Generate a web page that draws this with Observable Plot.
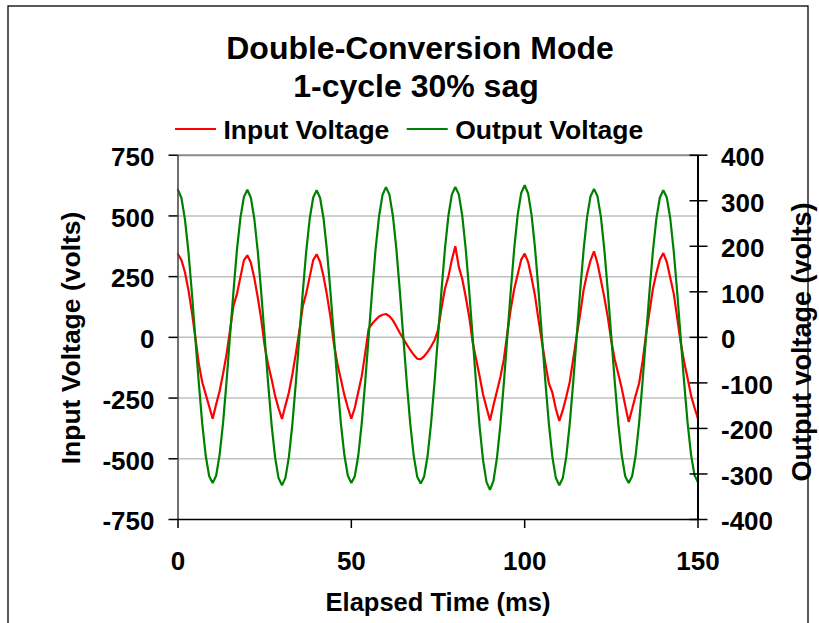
<!DOCTYPE html>
<html><head><meta charset="utf-8">
<script src="https://cdn.jsdelivr.net/npm/d3@7"></script>
<script src="https://cdn.jsdelivr.net/npm/@observablehq/plot@0.6"></script>
<style>
body{margin:0;background:#fff;}
#wrap{position:relative;width:819px;height:623px;overflow:hidden;background:#fff;}
#wrap svg{position:absolute;left:0;top:0;}
</style></head><body>
<div id="wrap"></div>
<script>
// ---- data ----
const titleLines = ["Double-Conversion Mode", "1-cycle 30% sag"];
const seriesNames = ["Input Voltage", "Output Voltage"];
const seriesColors = ["#ff0000", "#008000"];
const xLabel = "Elapsed Time (ms)";
const yLeftLabel = "Input Voltage (volts)";
const yRightLabel = "Output voltage (volts)";
const xTicks = [0, 50, 100, 150];
const leftTicks = [-750, -500, -250, 0, 250, 500, 750];
const rightTicks = [-400, -300, -200, -100, 0, 100, 200, 300, 400];
const sampleStepMs = 1;
// Input voltage (left axis), one sample per ms, t = 0..150
const inputVoltage = [
 342, 318, 268, 196, 105, 0, -108, -185, -235, -285,
 -335, -276, -222, -150, -70, 28, 130, 178, 248, 317,
 338, 308, 245, 165, 75, -35, -112, -172, -240, -292,
 -336, -280, -226, -152, -66, 26, 128, 182, 250, 318,
 342, 310, 250, 172, 82, -30, -110, -174, -238, -290,
 -335, -290, -225, -160, -65, 36, 56, 72, 86, 93,
 96, 87, 70, 45, 18, -6, -30, -52, -72, -88,
 -90, -78, -60, -38, -12, 30, 120, 200, 250, 320,
 375, 290, 240, 166, 85, -20, -90, -160, -235, -290,
 -342, -280, -222, -163, -90, 18, 118, 200, 260, 320,
 345, 310, 245, 170, 72, -20, -110, -190, -228, -295,
 -344, -300, -245, -184, -90, 5, 95, 195, 262, 317,
 354, 305, 235, 163, 81, -15, -92, -150, -210, -280,
 -348, -295, -240, -190, -100, 10, 105, 200, 265, 320,
 347, 310, 245, 180, 80, -20, -100, -168, -240, -290,
 -335
];
// Output voltage (right axis), one sample per ms, t = 0..150
const outputVoltage = [
 324, 306, 259, 189, 98, -2, -100, -190, -260, -305,
 -320, -304, -258, -188, -97, 3, 101, 192, 262, 308,
 324, 307, 261, 190, 99, 0, -101, -192, -263, -309,
 -325, -308, -262, -190, -99, 1, 100, 190, 261, 307,
 323, 306, 260, 188, 98, -1, -100, -190, -259, -304,
 -320, -305, -260, -189, -98, 2, 102, 194, 266, 313,
 330, 313, 266, 193, 101, 0, -100, -190, -260, -306,
 -321, -306, -260, -189, -98, 2, 102, 194, 267, 314,
 330, 314, 267, 194, 102, 0, -103, -196, -270, -318,
 -335, -315, -265, -192, -100, 2, 103, 196, 270, 317,
 334, 316, 268, 195, 102, 0, -100, -191, -263, -309,
 -325, -309, -262, -190, -99, 1, 101, 192, 264, 310,
 326, 310, 264, 191, 100, 0, -99, -189, -259, -305,
 -320, -305, -260, -189, -98, 1, 100, 190, 261, 307,
 323, 307, 261, 189, 99, -1, -99, -188, -258, -303,
 -318
];

// ---- chart ----
const rows = inputVoltage.map((v, i) => ({t: i * sampleStepMs, input: v, output: outputVoltage[i]}));
const leftMax = leftTicks[leftTicks.length - 1];
const rightMax = rightTicks[rightTicks.length - 1];
const k = leftMax / rightMax; // secondary axis mapped onto primary y scale
const FONT = "'Liberation Sans', Arial, Helvetica, sans-serif";
const fmt = d => String(Math.round(d));

const chart = Plot.plot({
  width: 819, height: 623,
  marginLeft: 177.5, marginRight: 121.5, marginTop: 154.7, marginBottom: 104,
  x: {domain: [xTicks[0], xTicks[xTicks.length - 1]]},
  y: {domain: [leftTicks[0], leftMax]},
  style: {fontFamily: FONT, fontWeight: "bold", fontSize: "26px", color: "#000", background: "transparent", overflow: "visible"},
  marks: [
    Plot.ruleY(leftTicks.slice(1, -1), {stroke: "#c0c0c0", strokeWidth: 1.5}),
    Plot.ruleY([leftMax], {stroke: "#8a8a8a", strokeWidth: 2}),
    Plot.line(rows, {x: "t", y: "input", stroke: seriesColors[0], strokeWidth: 2.2, strokeLinejoin: "miter"}),
    Plot.line(rows, {x: "t", y: d => d.output * k, stroke: seriesColors[1], strokeWidth: 2.2, strokeLinejoin: "miter"}),
    Plot.ruleX([xTicks[0]], {stroke: "#404040", strokeWidth: 1.5}),
    Plot.ruleX([xTicks[xTicks.length - 1]], {stroke: "#000", strokeWidth: 2}),
    Plot.ruleY([leftTicks[0]], {stroke: "#000", strokeWidth: 1.5}),
    // left axis
    Plot.axisY(leftTicks, {anchor: "left", tickSize: 9, fill: "none", stroke: "#000", strokeWidth: 1.5, label: null}),
    Plot.axisY(leftTicks, {anchor: "left", tickSize: 9, tickPadding: 14.5, stroke: "none", dy: 2.5, fontSize: 26, fontWeight: "bold", tickFormat: fmt, label: null}),
    // right axis (crossing ticks)
    Plot.axisY(rightTicks.map(v => v * k), {anchor: "right", tickSize: 18, dx: -9, fill: "none", stroke: "#000", strokeWidth: 1.5, label: null}),
    Plot.axisY(rightTicks.map(v => v * k), {anchor: "right", tickSize: 9, tickPadding: 14, stroke: "none", dy: 2.5, fontSize: 26, fontWeight: "bold", tickFormat: d => fmt(d / k), label: null}),
    // x axis
    Plot.axisX(xTicks, {anchor: "bottom", tickSize: 9, tickPadding: 23, stroke: "#000", strokeWidth: 1.5, fontSize: 26, fontWeight: "bold", tickFormat: fmt, label: null}),
    // axis titles
    Plot.text([xLabel], {frameAnchor: "bottom", lineAnchor: "middle", textAnchor: "middle", dy: 83.7, fontSize: 25.5, fontWeight: "bold", fill: "#000"}),
    Plot.text([yLeftLabel], {frameAnchor: "left", lineAnchor: "middle", textAnchor: "middle", rotate: -90, dx: -106, dy: 0.6, fontSize: 26.5, fontWeight: "bold", fill: "#000"}),
    Plot.text([yRightLabel], {frameAnchor: "right", lineAnchor: "middle", textAnchor: "middle", rotate: -90, dx: 104.5, dy: 4.6, fontSize: 27, fontWeight: "bold", fill: "#000"})
  ]
});
document.getElementById("wrap").appendChild(chart);

// ---- title, legend and outer border (overlay) ----
const ov = d3.select("#wrap").append("svg")
  .attr("width", 819).attr("height", 623)
  .style("pointer-events", "none")
  .style("font-family", FONT).style("font-weight", "bold");
ov.append("rect").attr("x", 8).attr("y", 6).attr("width", 800).attr("height", 700)
  .attr("fill", "none").attr("stroke", "#000").attr("stroke-width", 1.3);
ov.append("text").attr("x", 420).attr("y", 59.3).attr("text-anchor", "middle")
  .attr("font-size", 32).text(titleLines[0]);
ov.append("text").attr("x", 416).attr("y", 97.3).attr("text-anchor", "middle")
  .attr("font-size", 32).text(titleLines[1]);
const legendItems = [
  {name: seriesNames[0], color: seriesColors[0], x: 175},
  {name: seriesNames[1], color: seriesColors[1], x: 406.7}
];
legendItems.forEach(it => {
  ov.append("line").attr("x1", it.x).attr("x2", it.x + 41).attr("y1", 129).attr("y2", 129)
    .attr("stroke", it.color).attr("stroke-width", 2);
  ov.append("text").attr("x", it.x + 48.5).attr("y", 139).attr("font-size", 26.5).text(it.name);
});
</script>
</body></html>
